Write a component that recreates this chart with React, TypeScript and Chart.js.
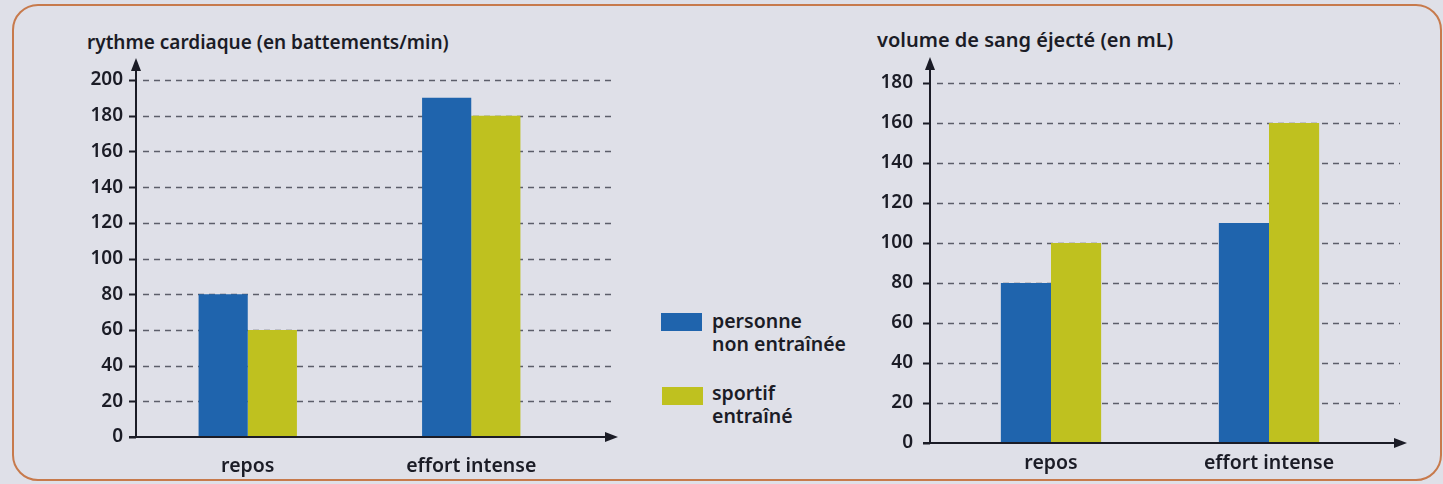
import React, { useEffect, useRef } from "react";
import { Chart, registerables } from "chart.js";

Chart.register(...registerables);

// ---- data ----
const categories = ["repos", "effort intense"];
const seriesNames = ["personne non entraînée", "sportif entraîné"];
const heartRateUntrained = [80, 190];
const heartRateTrained = [60, 180];
const strokeVolumeUntrained = [80, 110];
const strokeVolumeTrained = [100, 160];
const heartRateTitle = "rythme cardiaque (en battements/min)";
const strokeVolumeTitle = "volume de sang éjecté (en mL)";
const heartRateMax = 200;
const strokeVolumeMax = 180;
const tickStep = 20;
const legendLines = [
  ["personne", "non entraînée"],
  ["sportif", "entraîné"],
];

// ---- style ----
const BLUE = "#1f64ad";
const YELLOW = "#bfc11f";
const INK = "#1b1c26";
const DASH = "#5c5e6a";
const BG = "#dfe0e8";
const FONT = "'Noto Sans', 'Open Sans', sans-serif";

const axesPlugin = {
  id: "arrowAxes",
  beforeDatasetsDraw(chart: any, _args: any, opts: any) {
    const { ctx, chartArea } = chart;
    const y = chart.scales.y;
    const x0 = chartArea.left - opts.axisShift;
    ctx.save();
    ctx.strokeStyle = DASH;
    ctx.lineWidth = 1.4;
    ctx.setLineDash([6, 5]);
    y.ticks.forEach((t: any) => {
      if (t.value === 0) return;
      const py = Math.round(y.getPixelForValue(t.value)) + 0.5;
      ctx.beginPath();
      ctx.moveTo(x0 + 7, py);
      ctx.lineTo(chartArea.right + opts.extend, py);
      ctx.stroke();
    });
    ctx.restore();
  },
  afterDatasetsDraw(chart: any, _args: any, opts: any) {
    const { ctx, chartArea } = chart;
    const y = chart.scales.y;
    const x0 = chartArea.left - opts.axisShift;
    const y0 = chartArea.bottom;
    ctx.save();
    ctx.strokeStyle = INK;
    ctx.fillStyle = INK;
    ctx.lineWidth = 2;
    // tick marks
    y.ticks.forEach((t: any) => {
      const py = Math.round(y.getPixelForValue(t.value)) + 0.5;
      ctx.beginPath();
      ctx.moveTo(x0 - 7, py);
      ctx.lineTo(x0, py);
      ctx.stroke();
    });
    // y axis with arrow
    const topY = chartArea.top - opts.arrowTop;
    ctx.beginPath();
    ctx.moveTo(x0, y0);
    ctx.lineTo(x0, topY + 8);
    ctx.stroke();
    ctx.beginPath();
    ctx.moveTo(x0, topY);
    ctx.lineTo(x0 - 5, topY + 13);
    ctx.lineTo(x0 + 5, topY + 13);
    ctx.closePath();
    ctx.fill();
    // x axis with arrow
    const tipX = chartArea.right + opts.extend + opts.arrowRight;
    ctx.beginPath();
    ctx.moveTo(x0 - 7, y0);
    ctx.lineTo(tipX - 8, y0);
    ctx.stroke();
    ctx.beginPath();
    ctx.moveTo(tipX, y0);
    ctx.lineTo(tipX - 13, y0 - 5);
    ctx.lineTo(tipX - 13, y0 + 5);
    ctx.closePath();
    ctx.fill();
    ctx.restore();
  },
};

type PanelProps = {
  left: number;
  width: number;
  untrained: number[];
  trained: number[];
  max: number;
  pad: { left: number; right: number; top: number };
  xHeight: number;
  tickPad: number;
  labelPad: number;
  extend: number;
  arrowTop: number;
  arrowRight: number;
  axisShift: number;
  catPct: number;
};

function BarPanel(p: PanelProps) {
  const ref = useRef<HTMLCanvasElement | null>(null);
  useEffect(() => {
    if (!ref.current) return;
    const chart = new Chart(ref.current, {
      type: "bar",
      data: {
        labels: categories,
        datasets: [
          {
            label: seriesNames[0],
            data: p.untrained,
            backgroundColor: BLUE,
            borderWidth: 0,
            categoryPercentage: p.catPct,
            barPercentage: 1,
          },
          {
            label: seriesNames[1],
            data: p.trained,
            backgroundColor: YELLOW,
            borderWidth: 0,
            categoryPercentage: p.catPct,
            barPercentage: 1,
          },
        ],
      },
      options: {
        animation: false,
        responsive: false,
        devicePixelRatio: 1,
        layout: { padding: { left: p.pad.left, right: p.pad.right, top: p.pad.top, bottom: 0 } },
        plugins: {
          legend: { display: false },
          tooltip: { enabled: false },
          title: { display: false },
          // @ts-ignore
          arrowAxes: {
            extend: p.extend,
            arrowTop: p.arrowTop,
            arrowRight: p.arrowRight,
            axisShift: p.axisShift,
          },
        },
        scales: {
          x: {
            type: "category",
            offset: true,
            grid: { display: false, drawTicks: false },
            border: { display: false },
            ticks: {
              color: INK,
              padding: p.labelPad,
              font: { family: FONT, size: 19.5, weight: 600 },
              maxRotation: 0,
            },
            afterFit: (s: any) => {
              s.height = p.xHeight;
            },
          },
          y: {
            min: 0,
            max: p.max,
            grid: { display: false, drawTicks: false },
            border: { display: false },
            ticks: {
              stepSize: tickStep,
              color: INK,
              padding: p.tickPad,
              font: { family: FONT, size: 19, weight: 600 },
            },
            afterFit: (s: any) => {
              s.width = 60;
            },
          },
        },
      },
      plugins: [axesPlugin as any],
    });
    return () => chart.destroy();
  }, []);
  return (
    <canvas
      ref={ref}
      width={p.width}
      height={484}
      style={{ position: "absolute", left: p.left, top: 0, width: p.width, height: 484 }}
    />
  );
}

const textStyle: React.CSSProperties = {
  position: "absolute",
  fontFamily: FONT,
  fontWeight: 600,
  fontSize: 19,
  color: INK,
  whiteSpace: "nowrap",
  lineHeight: "20px",
};

export default function App() {
  return (
    <div
      style={{
        position: "absolute",
        left: 0,
        top: 0,
        width: 1443,
        height: 484,
        background: BG,
        overflow: "hidden",
      }}
    >
      <div
        style={{
          position: "absolute",
          left: 12,
          top: 4,
          width: 1426,
          height: 473,
          border: "2px solid #c77a4c",
          borderRadius: 26,
        }}
      />
      <div style={{ ...textStyle, left: 87, top: 32 }}>{heartRateTitle}</div>
      <div style={{ ...textStyle, fontSize: 20, left: 877, top: 30 }}>{strokeVolumeTitle}</div>

      <BarPanel
        left={60}
        width={580}
        untrained={heartRateUntrained}
        trained={heartRateTrained}
        max={heartRateMax}
        pad={{ left: 16, right: 57, top: 80 }}
        xHeight={47}
        tickPad={13}
        labelPad={18}
        extend={29}
        arrowTop={22}
        arrowRight={6}
        axisShift={0}
        catPct={0.44}
      />
      <BarPanel
        left={860}
        width={583}
        untrained={strokeVolumeUntrained}
        trained={strokeVolumeTrained}
        max={strokeVolumeMax}
        pad={{ left: 22, right: 65, top: 83 }}
        xHeight={41}
        tickPad={29}
        labelPad={9}
        extend={22}
        arrowTop={26}
        arrowRight={7}
        axisShift={12}
        catPct={0.46}
      />

      <div style={{ position: "absolute", left: 661, top: 313, width: 41, height: 18, background: BLUE }} />
      <div style={{ ...textStyle, fontSize: 19.5, left: 712, top: 309, lineHeight: "23px" }}>
        {legendLines[0][0]}
        <br />
        {legendLines[0][1]}
      </div>
      <div style={{ position: "absolute", left: 662, top: 387, width: 41, height: 18, background: YELLOW }} />
      <div style={{ ...textStyle, fontSize: 19.5, left: 712, top: 381, lineHeight: "23px" }}>
        {legendLines[1][0]}
        <br />
        {legendLines[1][1]}
      </div>
    </div>
  );
}
